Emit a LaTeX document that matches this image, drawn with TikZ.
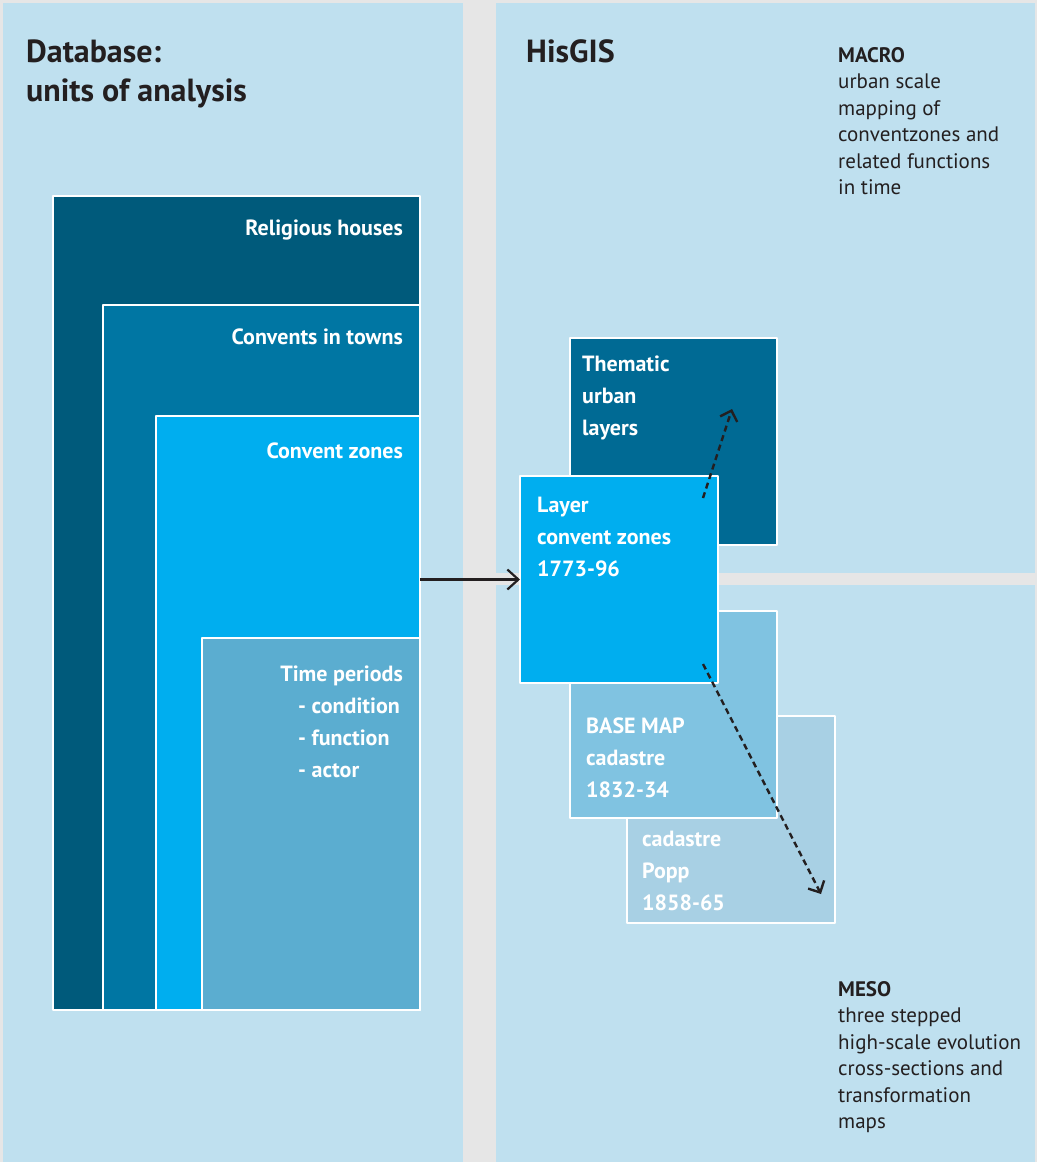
\documentclass[tikz,border=0pt]{standalone}
\usepackage{fontspec}
\setmainfont{PT Sans}
\usetikzlibrary{arrows.meta}
\definecolor{bggray}{HTML}{E6E6E6}
\definecolor{panel}{HTML}{BFE0EF}
\definecolor{rhouse}{HTML}{005A7B}
\definecolor{ctown}{HTML}{0076A3}
\definecolor{czone}{HTML}{00AEEF}
\definecolor{tperiod}{HTML}{5BADD0}
\definecolor{thematic}{HTML}{006A94}
\definecolor{basemap}{HTML}{80C3E1}
\definecolor{popp}{HTML}{A8D0E4}
\definecolor{ink}{HTML}{231F20}
\begin{document}
\begin{tikzpicture}[x=1pt, y=-1pt, line join=round,
    box/.style={draw=white, line width=1.3pt, anchor=north west, inner sep=0pt, outer sep=0pt},
    lbl/.style={text=white, inner sep=0pt, font=\fontsize{22}{32}\selectfont\bfseries, align=left},
    heading/.style={text=ink, inner sep=0pt, anchor=base west, align=left, font=\fontsize{32}{39}\selectfont\bfseries},
    side/.style={text=ink, inner sep=0pt, anchor=base west, align=left, font=\fontsize{21}{26.5}\selectfont},
    dasharrow/.style={ink, line width=2.4pt, dash pattern=on 6pt off 4pt, -{Straight Barb[length=9pt, width=18pt]}}]
  % background and panels
  \fill[bggray] (0,0) rectangle (1037,1162);
  \useasboundingbox (0,0) rectangle (1037,1162);
  \fill[panel] (3,3) rectangle (463,1162);
  \fill[panel] (496,3) rectangle (1035,573);
  \fill[panel] (496,585) rectangle (1035,1162);
  % headings (multi-line nodes sit on their last baseline)
  \node[heading] (dbhead) at (26,101) {Database:\\units of analysis};
  \node[heading] (gishead) at (526,62) {HisGIS};
  \node[side] (macro) at (838,194.5) {\textbf{MACRO}\\urban scale\\mapping of\\conventzones and\\related functions\\in time};
  \node[side] (meso) at (838,1128.5) {\textbf{MESO}\\three stepped\\high-scale evolution\\cross-sections and\\transformation\\maps};
  % database: nested units
  \foreach \n/\x/\y/\w/\h/\c in {rh/53/196/367/814/rhouse, ct/103/305/317/705/ctown, cz/156/416/264/594/czone, tp/202/638/218/372/tperiod}
    \node[box, fill=\c, minimum width=\w pt, minimum height=\h pt] (\n) at (\x,\y) {};
  \node[lbl, anchor=base east] (rhlbl) at (403,235) {Religious houses};
  \node[lbl, anchor=base east] (ctlbl) at (403,344) {Convents in towns};
  \node[lbl, anchor=base east] (czlbl) at (403,458) {Convent zones};
  \node[lbl, anchor=base east] (tplbl) at (403,681) {Time periods};
  \node[lbl, anchor=base west] (tplist) at (298,777) {- condition\\- function\\- actor};
  % HisGIS layers
  \foreach \n/\x/\y/\w/\c in {pp/627/716/208/popp, bm/570/611/207/basemap, th/570/338/207/thematic, lc/520/476/198/czone}
    \node[box, fill=\c, minimum width=\w pt, minimum height=207pt] (\n) at (\x,\y) {};
  \node[lbl, anchor=base west] (thlbl) at (582,435) {Thematic\\urban\\layers};
  \node[lbl, anchor=base west] (lclbl) at (537,576) {Layer\\convent zones\\1773-96};
  \node[lbl, anchor=base west] (bmlbl) at (586,797) {BASE MAP\\cadastre\\1832-34};
  \node[lbl, anchor=base west] (pplbl) at (642,910) {cadastre\\Popp\\1858-65};
  % connectors
  \draw[ink, line width=2.2pt, -{Straight Barb[length=11pt, width=20pt]}] (lc.west -| cz.east) -- (lc.west);
  \coordinate (upstart) at (703,498);
  \coordinate (upend) at (732,409);
  \coordinate (downstart) at (703,664);
  \coordinate (downend) at (821,894);
  \draw[dasharrow] (upstart) -- (upend);
  \draw[dasharrow] (downstart) -- (downend);
\end{tikzpicture}
\end{document}
